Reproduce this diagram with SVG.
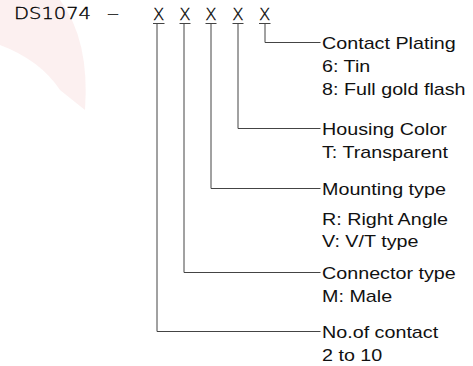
<svg xmlns="http://www.w3.org/2000/svg" width="473" height="366" viewBox="0 0 473 366">
<style>
.hdr{font-family:"DejaVu Sans",sans-serif;font-size:15.5px;font-weight:200;fill:#000;stroke:#000;stroke-width:0.35px}
.x{font-size:16.5px}
.lbl{font-family:"Liberation Sans",Arial,sans-serif;font-size:17px;fill:#111}
.ln{stroke:#444;stroke-width:1;fill:none}
</style>
<rect width="473" height="366" fill="#fff"/>
<g id="watermark" opacity="0.07">
<path d="M0,0 L60,0 Q90,40 85,110 L60,90 Q40,60 0,45 Z" fill="#d32f2f"/>
</g>
<g id="code">
<text class="hdr" x="14" y="18.5" textLength="77" lengthAdjust="spacingAndGlyphs">DS1074</text>
<text class="hdr" x="107" y="18.5" textLength="12" lengthAdjust="spacingAndGlyphs">–</text>
<text class="hdr x" x="158.7" y="19.5" text-anchor="middle">X</text>
<text class="hdr x" x="185" y="19.5" text-anchor="middle">X</text>
<text class="hdr x" x="211" y="19.5" text-anchor="middle">X</text>
<text class="hdr x" x="238" y="19.5" text-anchor="middle">X</text>
<text class="hdr x" x="264.7" y="19.5" text-anchor="middle">X</text>
</g>
<g id="connectors">
<path class="ln" d="M153,23.5 H164.5 M179.5,23.5 H190.5 M205.5,23.5 H216.5 M232.5,23.5 H243.5 M259,23.5 H270.5"/>
<path class="ln" d="M265,23.5 V42.5 H320.5"/>
<path class="ln" d="M238,23.5 V128.5 H320.5"/>
<path class="ln" d="M211,23.5 V188.5 H320.5"/>
<path class="ln" d="M184,23.5 V272.5 H320.5"/>
<path class="ln" d="M157,23.5 V331.5 H320.5"/>
</g>
<g id="plating" transform="translate(322 0) scale(1.16 1)">
<text class="lbl" x="0" y="49.5">Contact Plating</text>
<text class="lbl" x="0" y="72.5">6: Tin</text>
<text class="lbl" x="0" y="95.5">8: Full gold flash</text>
</g>
<g id="housing" transform="translate(322 0) scale(1.16 1)">
<text class="lbl" x="0" y="135.5">Housing Color</text>
<text class="lbl" x="0" y="158.5">T: Transparent</text>
</g>
<g id="mounting" transform="translate(322 0) scale(1.16 1)">
<text class="lbl" x="0" y="195.5">Mounting type</text>
<text class="lbl" x="0" y="225">R: Right Angle</text>
<text class="lbl" x="0" y="247">V: V/T type</text>
</g>
<g id="connector" transform="translate(322 0) scale(1.16 1)">
<text class="lbl" x="0" y="279.5">Connector type</text>
<text class="lbl" x="0" y="302">M: Male</text>
</g>
<g id="contacts" transform="translate(322 0) scale(1.16 1)">
<text class="lbl" x="0" y="338.5">No.of contact</text>
<text class="lbl" x="0" y="361">2 to 10</text>
</g>
</svg>
